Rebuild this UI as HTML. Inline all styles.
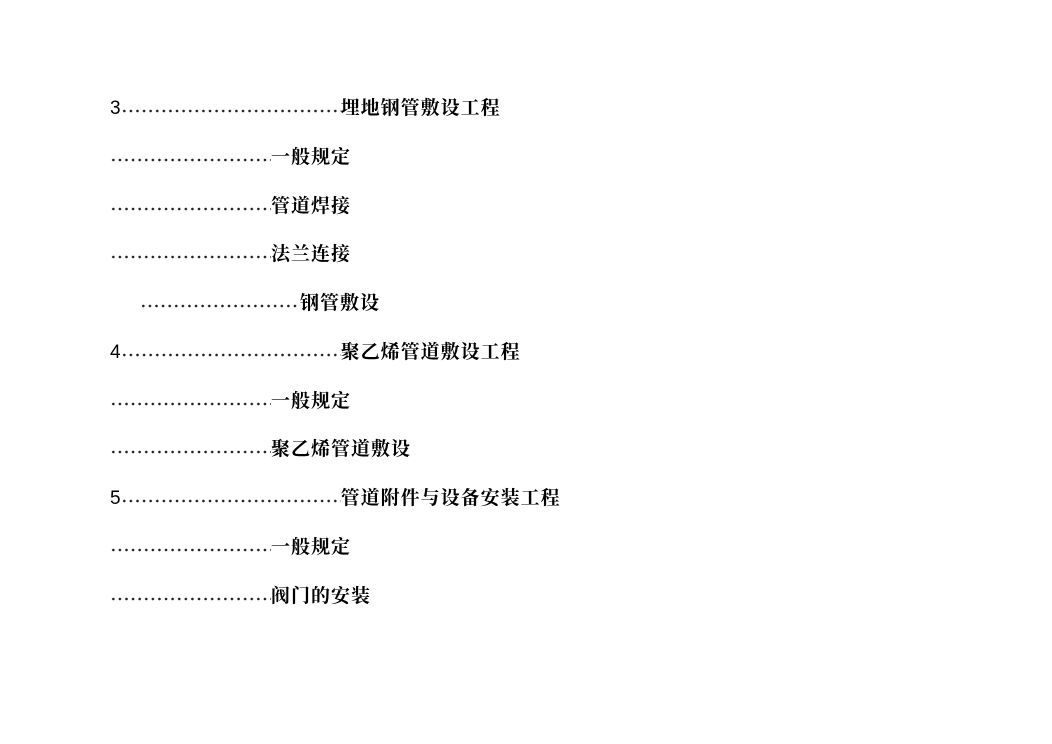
<!DOCTYPE html>
<html><head><meta charset="utf-8"><style>
body{margin:0;width:1052px;height:744px;background:#fff;position:relative;overflow:hidden;font-family:"Liberation Sans","Noto Serif CJK SC","Noto Sans CJK SC",serif;}
.r{position:absolute;height:24px;line-height:24px;font-size:19px;font-weight:bold;color:#000;white-space:nowrap;display:flex;align-items:center}
.n{font-weight:normal;font-size:19px;font-family:"Liberation Sans",sans-serif}
.d{display:inline-block;height:4px;background-image:radial-gradient(circle,#222 1.1px,transparent 1.5px);background-size:6.6px 4px;background-repeat:repeat-x;margin-top:3px}
.t{letter-spacing:1px}
</style></head><body>
<div class="r" style="left:110px;top:97px"><span class="n">3</span><span class="d" style="width:220px"></span><span class="t">埋地钢管敷设工程</span></div>
<div class="r" style="left:110px;top:146px"><span class="d" style="width:161px"></span><span class="t">一般规定</span></div>
<div class="r" style="left:110px;top:195px"><span class="d" style="width:161px"></span><span class="t">管道焊接</span></div>
<div class="r" style="left:110px;top:243px"><span class="d" style="width:161px"></span><span class="t">法兰连接</span></div>
<div class="r" style="left:140px;top:292px"><span class="d" style="width:160px"></span><span class="t">钢管敷设</span></div>
<div class="r" style="left:110px;top:341px"><span class="n">4</span><span class="d" style="width:220px"></span><span class="t">聚乙烯管道敷设工程</span></div>
<div class="r" style="left:110px;top:390px"><span class="d" style="width:161px"></span><span class="t">一般规定</span></div>
<div class="r" style="left:110px;top:438px"><span class="d" style="width:161px"></span><span class="t">聚乙烯管道敷设</span></div>
<div class="r" style="left:110px;top:487px"><span class="n">5</span><span class="d" style="width:220px"></span><span class="t">管道附件与设备安装工程</span></div>
<div class="r" style="left:110px;top:536px"><span class="d" style="width:161px"></span><span class="t">一般规定</span></div>
<div class="r" style="left:110px;top:585px"><span class="d" style="width:161px"></span><span class="t">阀门的安装</span></div>
</body></html>
